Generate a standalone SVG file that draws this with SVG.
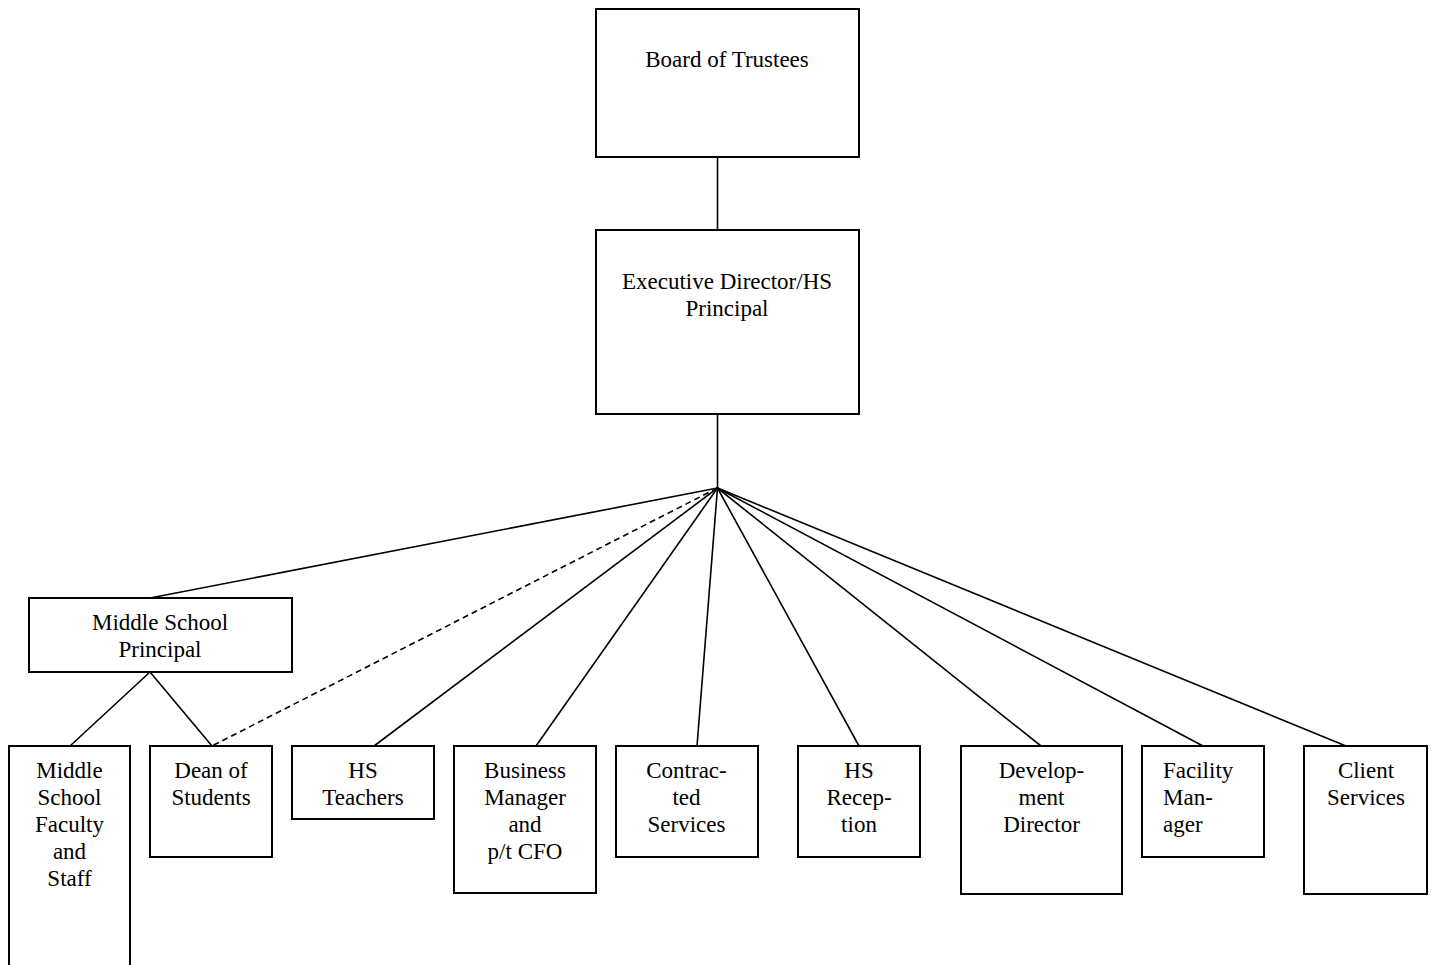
<svg xmlns="http://www.w3.org/2000/svg" width="1435" height="965" viewBox="0 0 1435 965">
<style>
.box{fill:#fff;stroke:#000;stroke-width:2}
.t{font-family:"Liberation Serif","Times New Roman",serif;font-size:23px;fill:#000;text-anchor:middle}
.ts{font-family:"Liberation Serif","Times New Roman",serif;font-size:23px;fill:#000;text-anchor:start}
.ln{stroke:#000;stroke-width:1.6;fill:none}
.dash{stroke:#000;stroke-width:1.6;fill:none;stroke-dasharray:6 4}
</style>
<rect width="1435" height="965" fill="#fff"/>
<g id="connectors">
<line class="ln" x1="717.5" y1="157" x2="717.5" y2="230"/>
<line class="ln" x1="717.5" y1="414" x2="717.5" y2="488"/>
<line class="ln" x1="717.5" y1="488" x2="150" y2="598"/>
<line class="dash" x1="717.5" y1="488" x2="212" y2="746"/>
<line class="ln" x1="717.5" y1="488" x2="374" y2="746"/>
<line class="ln" x1="717.5" y1="488" x2="536" y2="746"/>
<line class="ln" x1="717.5" y1="488" x2="697" y2="746"/>
<line class="ln" x1="717.5" y1="488" x2="859" y2="746"/>
<line class="ln" x1="717.5" y1="488" x2="1041" y2="746"/>
<line class="ln" x1="717.5" y1="488" x2="1203" y2="746"/>
<line class="ln" x1="717.5" y1="488" x2="1346" y2="746"/>
<line class="ln" x1="150" y1="672" x2="70" y2="746"/>
<line class="ln" x1="150" y1="672" x2="212" y2="746"/>
</g>
<g id="board">
<rect class="box" x="596" y="9" width="263" height="148"/>
<text class="t" x="727" y="67">Board of Trustees</text>
</g>
<g id="exec">
<rect class="box" x="596" y="230" width="263" height="184"/>
<text class="t" x="727" y="289">Executive Director/HS</text>
<text class="t" x="727" y="316">Principal</text>
</g>
<g id="msp">
<rect class="box" x="29" y="598" width="263" height="74"/>
<text class="t" x="160" y="630">Middle School</text>
<text class="t" x="160" y="657">Principal</text>
</g>
<g id="msf">
<rect class="box" x="9" y="746" width="121" height="230"/>
<text class="t" x="69.5" y="778">Middle</text>
<text class="t" x="69.5" y="805">School</text>
<text class="t" x="69.5" y="832">Faculty</text>
<text class="t" x="69.5" y="859">and</text>
<text class="t" x="69.5" y="886">Staff</text>
</g>
<g id="dean">
<rect class="box" x="150" y="746" width="122" height="111"/>
<text class="t" x="211" y="778">Dean of</text>
<text class="t" x="211" y="805">Students</text>
</g>
<g id="hst">
<rect class="box" x="292" y="746" width="142" height="73"/>
<text class="t" x="363" y="778">HS</text>
<text class="t" x="363" y="805">Teachers</text>
</g>
<g id="bm">
<rect class="box" x="454" y="746" width="142" height="147"/>
<text class="t" x="525" y="778">Business</text>
<text class="t" x="525" y="805">Manager</text>
<text class="t" x="525" y="832">and</text>
<text class="t" x="525" y="859">p/t CFO</text>
</g>
<g id="cs">
<rect class="box" x="616" y="746" width="142" height="111"/>
<text class="t" x="686.5" y="778">Contrac-</text>
<text class="t" x="686.5" y="805">ted</text>
<text class="t" x="686.5" y="832">Services</text>
</g>
<g id="hsr">
<rect class="box" x="798" y="746" width="122" height="111"/>
<text class="t" x="859" y="778">HS</text>
<text class="t" x="859" y="805">Recep-</text>
<text class="t" x="859" y="832">tion</text>
</g>
<g id="dev">
<rect class="box" x="961" y="746" width="161" height="148"/>
<text class="t" x="1041.5" y="778">Develop-</text>
<text class="t" x="1041.5" y="805">ment</text>
<text class="t" x="1041.5" y="832">Director</text>
</g>
<g id="fac">
<rect class="box" x="1142" y="746" width="122" height="111"/>
<text class="ts" x="1163" y="778">Facility</text>
<text class="ts" x="1163" y="805">Man-</text>
<text class="ts" x="1163" y="832">ager</text>
</g>
<g id="client">
<rect class="box" x="1304" y="746" width="123" height="148"/>
<text class="t" x="1366" y="778">Client</text>
<text class="t" x="1366" y="805">Services</text>
</g>
</svg>
